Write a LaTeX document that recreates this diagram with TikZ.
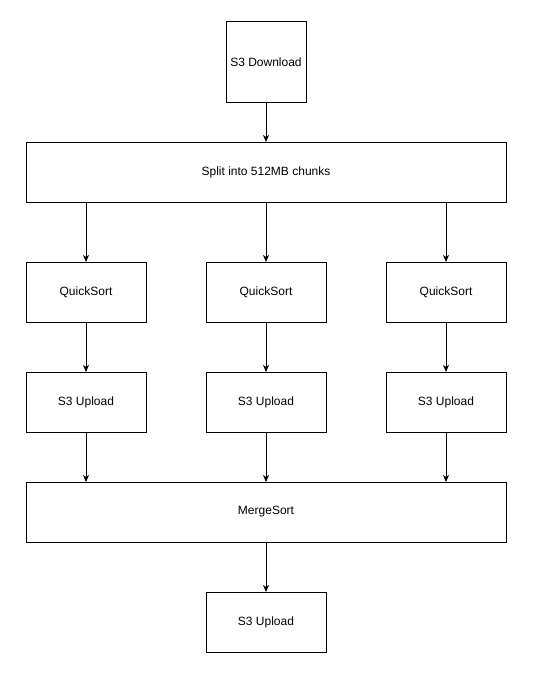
\documentclass[tikz,border=0pt]{standalone}
\usepackage{fontspec}
\setmainfont{Liberation Sans}
\usetikzlibrary{arrows.meta,positioning}
\tikzset{
    stepbox/.style={rectangle, draw=black, line width=1pt, fill=white, minimum width=120pt, minimum height=60pt, inner sep=0pt, outer sep=0pt, text centered, font=\fontsize{12pt}{14pt}\selectfont},
    widebox/.style={stepbox, minimum width=480pt},
    squarebox/.style={stepbox, minimum width=80pt, minimum height=80pt},
    arrow/.style={line width=1pt, -{Stealth[length=7pt,width=6pt,inset=2pt]}}
}
\begin{document}
\begin{tikzpicture}[node distance=50pt]

\useasboundingbox (0pt,0pt) rectangle (542pt,-677pt);

% Download and split
\node[squarebox] (download) at (266pt,-62pt) {S3 Download};
\node[widebox, below=40pt of download] (split) {Split into 512MB chunks};

% Sort each chunk
\node[stepbox, below=60pt of split] (sort2) {QuickSort};
\node[stepbox, left=60pt of sort2] (sort1) {QuickSort};
\node[stepbox, right=60pt of sort2] (sort3) {QuickSort};

% Upload sorted chunks
\node[stepbox, below=of sort1] (upload1) {S3 Upload};
\node[stepbox, below=of sort2] (upload2) {S3 Upload};
\node[stepbox, below=of sort3] (upload3) {S3 Upload};

% Merge and final upload
\node[widebox, below=of upload2] (merge) {MergeSort};
\node[stepbox, below=of merge] (final) {S3 Upload};

% Arrows
\draw[arrow] (download) -- (split);
\foreach \i in {1,2,3} {
    \draw[arrow] (sort\i |- split.south) -- (sort\i);
    \draw[arrow] (sort\i) -- (upload\i);
    \draw[arrow] (upload\i) -- (upload\i |- merge.north);
}
\draw[arrow] (merge) -- (final);

\end{tikzpicture}
\end{document}
